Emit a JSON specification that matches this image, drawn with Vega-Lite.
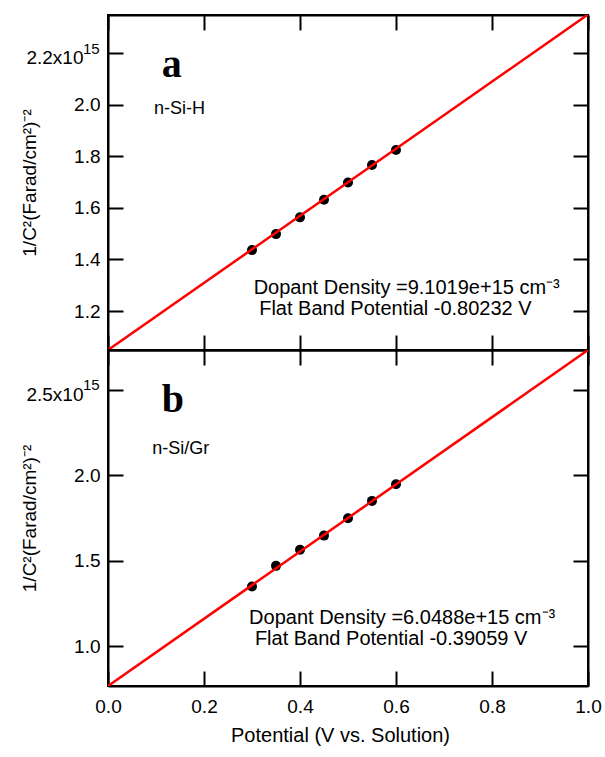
{
  "$schema": "https://vega.github.io/schema/vega-lite/v6.json",
  "padding": {"left": 19, "top": 13, "right": 16, "bottom": 10},
  "spacing": 0,
  "bounds": "flush",
  "background": "white",
  "config": {
    "view": {"stroke": "black", "strokeWidth": 2},
    "font": "Liberation Sans",
    "axis": {
      "domainColor": "black", "domainWidth": 2,
      "tickColor": "black", "tickWidth": 2, "tickSize": -15,
      "grid": false, "labelColor": "black", "titleColor": "black",
      "labelFont": "Liberation Sans", "titleFont": "Liberation Sans",
      "labelFontSize": 19, "titleFontSize": 19, "titleFontWeight": "normal",
      "labelFlush": false, "labelOverlap": false
    }
  },
  "datasets": {
    "pointsA": [
      {"potential": 0.30, "inv_c2": 1.436e15},
      {"potential": 0.35, "inv_c2": 1.498e15},
      {"potential": 0.40, "inv_c2": 1.563e15},
      {"potential": 0.45, "inv_c2": 1.631e15},
      {"potential": 0.50, "inv_c2": 1.698e15},
      {"potential": 0.55, "inv_c2": 1.766e15},
      {"potential": 0.60, "inv_c2": 1.824e15}
    ],
    "lineA": [
      {"potential": 0.0, "inv_c2": 1.049e15},
      {"potential": 1.0, "inv_c2": 2.349e15}
    ],
    "pointsB": [
      {"potential": 0.30, "inv_c2": 1.348e15},
      {"potential": 0.35, "inv_c2": 1.469e15},
      {"potential": 0.40, "inv_c2": 1.563e15},
      {"potential": 0.45, "inv_c2": 1.646e15},
      {"potential": 0.50, "inv_c2": 1.748e15},
      {"potential": 0.55, "inv_c2": 1.849e15},
      {"potential": 0.60, "inv_c2": 1.946e15}
    ],
    "lineB": [
      {"potential": 0.0, "inv_c2": 0.766e15},
      {"potential": 1.0, "inv_c2": 2.732e15}
    ],
    "one": [{}]
  },
  "vconcat": [
    {
      "width": 480, "height": 335,
      "layer": [
        {
          "data": {"name": "pointsA"},
          "mark": {"type": "point", "filled": true, "color": "black", "size": 100, "opacity": 1},
          "encoding": {
            "x": {"field": "potential", "type": "quantitative", "scale": {"domain": [0, 1], "nice": false},
                  "axis": {"orient": "top", "labels": false, "title": null, "values": [0, 0.2, 0.4, 0.6, 0.8, 1]}},
            "y": {"field": "inv_c2", "type": "quantitative", "scale": {"domain": [1.049e15, 2.347e15], "nice": false, "zero": false},
                  "axis": {"orient": "right", "labels": false, "title": null, "values": [1.2e15, 1.4e15, 1.6e15, 1.8e15, 2.0e15, 2.2e15]}}
          }
        },
        {
          "data": {"name": "lineA"},
          "mark": {"type": "line", "color": "#ff0000", "strokeWidth": 2.5, "clip": true},
          "encoding": {
            "x": {"field": "potential", "type": "quantitative",
                  "axis": {"orient": "bottom", "labels": false, "title": null, "values": [0, 0.2, 0.4, 0.6, 0.8, 1]}},
            "y": {"field": "inv_c2", "type": "quantitative",
                  "axis": {"orient": "left", "values": [1.2e15, 1.4e15, 1.6e15, 1.8e15, 2.0e15, 2.2e15],
                           "labelPadding": {"condition": {"test": "datum.value == 2.2e15", "value": 40}, "value": 23},
                           "labelOffset": {"condition": {"test": "datum.value == 2.2e15", "value": 5}, "value": 0},
                           "labelExpr": "datum.value == 2.2e15 ? '2.2x10' : format(datum.value / 1e15, '.1f')",
                           "title": "1/C²(Farad/cm²)⁻²", "titleX": -73, "titleY": 167.5, "titleBaseline": "alphabetic", "titleAngle": -90}}
          }
        },
        {
          "data": {"name": "one"},
          "mark": {"type": "text", "text": "15", "fontSize": 15, "align": "left", "baseline": "alphabetic", "color": "black"},
          "encoding": {
            "x": {"datum": -0.0521, "type": "quantitative", "axis": null},
            "y": {"datum": 2.195e15, "type": "quantitative", "axis": null}
          }
        },
        {
          "data": {"name": "one"},
          "mark": {"type": "text", "text": "a", "font": "Liberation Serif", "fontWeight": "bold", "fontSize": 40, "align": "left", "baseline": "alphabetic", "color": "black"},
          "encoding": {
            "x": {"datum": 0.112, "type": "quantitative", "axis": null},
            "y": {"datum": 2.107e15, "type": "quantitative", "axis": null}
          }
        },
        {
          "data": {"name": "one"},
          "mark": {"type": "text", "text": "n-Si-H", "fontSize": 18, "align": "left", "baseline": "alphabetic", "color": "black"},
          "encoding": {
            "x": {"datum": 0.096, "type": "quantitative", "axis": null},
            "y": {"datum": 1.965e15, "type": "quantitative", "axis": null}
          }
        },
        {
          "data": {"name": "one"},
          "mark": {"type": "text", "text": "Dopant Density =9.1019e+15 cm⁻³", "fontSize": 20, "align": "left", "baseline": "alphabetic", "color": "black"},
          "encoding": {
            "x": {"datum": 0.3035, "type": "quantitative", "axis": null},
            "y": {"datum": 1.266e15, "type": "quantitative", "axis": null}
          }
        },
        {
          "data": {"name": "one"},
          "mark": {"type": "text", "text": "Flat Band Potential -0.80232 V", "fontSize": 20, "align": "left", "baseline": "alphabetic", "color": "black"},
          "encoding": {
            "x": {"datum": 0.315, "type": "quantitative", "axis": null},
            "y": {"datum": 1.183e15, "type": "quantitative", "axis": null}
          }
        }
      ]
    },
    {
      "width": 480, "height": 336,
      "layer": [
        {
          "data": {"name": "pointsB"},
          "mark": {"type": "point", "filled": true, "color": "black", "size": 100, "opacity": 1},
          "encoding": {
            "x": {"field": "potential", "type": "quantitative", "scale": {"domain": [0, 1], "nice": false},
                  "axis": {"orient": "top", "labels": false, "title": null, "values": [0, 0.2, 0.4, 0.6, 0.8, 1]}},
            "y": {"field": "inv_c2", "type": "quantitative", "scale": {"domain": [0.766e15, 2.732e15], "nice": false, "zero": false},
                  "axis": {"orient": "right", "labels": false, "title": null, "values": [1.0e15, 1.5e15, 2.0e15, 2.5e15]}}
          }
        },
        {
          "data": {"name": "lineB"},
          "mark": {"type": "line", "color": "#ff0000", "strokeWidth": 2.5, "clip": true},
          "encoding": {
            "x": {"field": "potential", "type": "quantitative",
                  "axis": {"orient": "bottom", "values": [0, 0.2, 0.4, 0.6, 0.8, 1], "format": ".1f", "labelPadding": 26,
                           "title": "Potential (V vs. Solution)", "titleFontSize": 20, "titleX": 232, "titleY": 55, "titleBaseline": "alphabetic"}},
            "y": {"field": "inv_c2", "type": "quantitative",
                  "axis": {"orient": "left", "values": [1.0e15, 1.5e15, 2.0e15, 2.5e15],
                           "labelPadding": {"condition": {"test": "datum.value == 2.5e15", "value": 40}, "value": 23},
                           "labelOffset": {"condition": {"test": "datum.value == 2.5e15", "value": 5}, "value": 0},
                           "labelExpr": "datum.value == 2.5e15 ? '2.5x10' : format(datum.value / 1e15, '.1f')",
                           "title": "1/C²(Farad/cm²)⁻²", "titleX": -73, "titleY": 168, "titleBaseline": "alphabetic", "titleAngle": -90}}
          }
        },
        {
          "data": {"name": "one"},
          "mark": {"type": "text", "text": "15", "fontSize": 15, "align": "left", "baseline": "alphabetic", "color": "black"},
          "encoding": {
            "x": {"datum": -0.0521, "type": "quantitative", "axis": null},
            "y": {"datum": 2.498e15, "type": "quantitative", "axis": null}
          }
        },
        {
          "data": {"name": "one"},
          "mark": {"type": "text", "text": "b", "font": "Liberation Serif", "fontWeight": "bold", "fontSize": 40, "align": "left", "baseline": "alphabetic", "color": "black"},
          "encoding": {
            "x": {"datum": 0.112, "type": "quantitative", "axis": null},
            "y": {"datum": 2.369e15, "type": "quantitative", "axis": null}
          }
        },
        {
          "data": {"name": "one"},
          "mark": {"type": "text", "text": "n-Si/Gr", "fontSize": 18, "align": "left", "baseline": "alphabetic", "color": "black"},
          "encoding": {
            "x": {"datum": 0.092, "type": "quantitative", "axis": null},
            "y": {"datum": 2.123e15, "type": "quantitative", "axis": null}
          }
        },
        {
          "data": {"name": "one"},
          "mark": {"type": "text", "text": "Dopant Density =6.0488e+15 cm⁻³", "fontSize": 20, "align": "left", "baseline": "alphabetic", "color": "black"},
          "encoding": {
            "x": {"datum": 0.294, "type": "quantitative", "axis": null},
            "y": {"datum": 1.131e15, "type": "quantitative", "axis": null}
          }
        },
        {
          "data": {"name": "one"},
          "mark": {"type": "text", "text": "Flat Band Potential -0.39059 V", "fontSize": 20, "align": "left", "baseline": "alphabetic", "color": "black"},
          "encoding": {
            "x": {"datum": 0.306, "type": "quantitative", "axis": null},
            "y": {"datum": 1.004e15, "type": "quantitative", "axis": null}
          }
        }
      ]
    }
  ]
}
